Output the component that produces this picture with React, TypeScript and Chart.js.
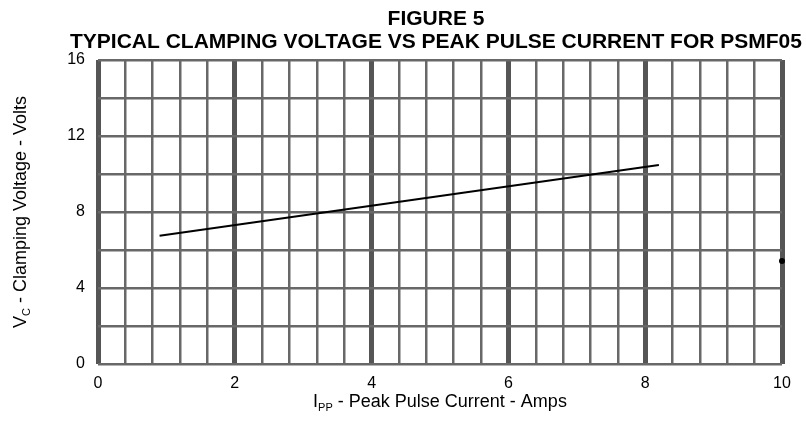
import React, { useEffect, useRef } from 'react';
import { Chart, registerables } from 'chart.js';

Chart.register(...registerables);

// ---- data ----
const titleLines = ['FIGURE 5', 'TYPICAL CLAMPING VOLTAGE VS PEAK PULSE CURRENT FOR PSMF05'];
const xTitleParts = ['I', 'PP', ' - Peak Pulse Current - Amps'];
const yTitleParts = ['V', 'C', ' - Clamping Voltage - Volts'];
const currentAmps = [0.9, 8.2];
const clampVolts = [6.75, 10.47];
const markerAmps = [10];
const markerVolts = [5.42];
const xTickLabels = [0, 2, 4, 6, 8, 10];
const yTickLabels = [0, 4, 8, 12, 16];
const xMin = 0, xMax = 10, xGridStep = 0.4, xMajorStep = 2;
const yMin = 0, yMax = 16, yGridStep = 2;

const FONT = '"Liberation Sans", Arial, Helvetica, sans-serif';

const near = (a: number, b: number) => Math.abs(a - b) < 1e-6;
const isMajorX = (v: number) => near(v / xMajorStep, Math.round(v / xMajorStep));

function drawSubText(ctx: CanvasRenderingContext2D, parts: string[], cx: number, baseline: number, size: number, subSize: number, subDrop: number) {
  ctx.font = `${size}px ${FONT}`;
  const w1 = ctx.measureText(parts[0]).width;
  const w3 = ctx.measureText(parts[2]).width;
  ctx.font = `${subSize}px ${FONT}`;
  const w2 = ctx.measureText(parts[1]).width;
  const total = w1 + w2 + w3;
  let x = cx - total / 2;
  ctx.textAlign = 'left';
  ctx.textBaseline = 'alphabetic';
  ctx.font = `${size}px ${FONT}`;
  ctx.fillText(parts[0], x, baseline);
  x += w1;
  ctx.font = `${subSize}px ${FONT}`;
  ctx.fillText(parts[1], x, baseline + subDrop);
  x += w2;
  ctx.font = `${size}px ${FONT}`;
  ctx.fillText(parts[2], x, baseline);
}

const textPlugin = {
  id: 'figureTexts',
  afterDraw(chart: any) {
    const { ctx, chartArea } = chart;
    const cx = (chartArea.left + chartArea.right) / 2;
    const cy = (chartArea.top + chartArea.bottom) / 2;
    ctx.save();
    ctx.fillStyle = '#000';
    ctx.textAlign = 'center';
    ctx.textBaseline = 'alphabetic';
    ctx.font = `bold 21px ${FONT}`;
    ctx.fillText(titleLines[0], cx - 4, 25);
    ctx.fillText(titleLines[1], cx - 4, 48);
    drawSubText(ctx, xTitleParts, cx, 407, 18, 11, 4);
    ctx.translate(26, cy);
    ctx.rotate(-Math.PI / 2);
    drawSubText(ctx, yTitleParts, 0, 0, 18, 11, 4);
    ctx.restore();
  },
};

export default function App() {
  const ref = useRef<HTMLCanvasElement | null>(null);
  useEffect(() => {
    document.body.style.margin = '0';
    const canvas = ref.current;
    if (!canvas) return;
    const chart = new Chart(canvas, {
      type: 'scatter',
      data: {
        datasets: [
          {
            data: currentAmps.map((x, i) => ({ x, y: clampVolts[i] })),
            showLine: true,
            borderColor: '#000',
            borderWidth: 2,
            pointRadius: 0,
            backgroundColor: '#000',
          },
          {
            data: markerAmps.map((x, i) => ({ x, y: markerVolts[i] })),
            showLine: false,
            pointRadius: 3,
            backgroundColor: '#000',
            borderColor: '#000',
            borderWidth: 0,
            clip: false,
          } as any,
        ],
      },
      options: {
        animation: false,
        responsive: false,
        devicePixelRatio: 1,
        layout: { padding: { left: 0, top: 60, right: 24, bottom: 0 } },
        plugins: { legend: { display: false }, tooltip: { enabled: false }, title: { display: false } },
        scales: {
          x: {
            type: 'linear',
            min: xMin,
            max: xMax,
            z: -1,
            afterFit: (s: any) => { s.height = 57; },
            afterBuildTicks: (s: any) => {
              const n = Math.round((xMax - xMin) / xGridStep);
              s.ticks = Array.from({ length: n + 1 }, (_, i) => ({ value: xMin + (i * (xMax - xMin)) / n }));
            },
            border: { display: false },
            grid: {
              drawTicks: false,
              color: (c: any) => (c.tick && isMajorX(c.tick.value) ? '#555555' : '#686868'),
              lineWidth: (c: any) => (c.tick && isMajorX(c.tick.value) ? 5 : 2.5),
            },
            ticks: {
              autoSkip: false,
              maxRotation: 0,
              padding: 10,
              color: '#000',
              font: { family: FONT, size: 16 },
              callback: (v: any) => {
                const m = xTickLabels.find((t) => near(t, Number(v)));
                return m === undefined ? '' : String(m);
              },
            },
          },
          y: {
            type: 'linear',
            min: yMin,
            max: yMax,
            z: -2,
            afterFit: (s: any) => { s.width = 98; },
            afterBuildTicks: (s: any) => {
              const n = Math.round((yMax - yMin) / yGridStep);
              s.ticks = Array.from({ length: n + 1 }, (_, i) => ({ value: yMin + i * yGridStep }));
            },
            border: { display: false },
            grid: {
              drawTicks: false,
              color: '#686868',
              lineWidth: 2.5,
            },
            ticks: {
              autoSkip: false,
              padding: 13,
              color: '#000',
              font: { family: FONT, size: 16 },
              callback: (v: any) => {
                const m = yTickLabels.find((t) => near(t, Number(v)));
                return m === undefined ? '' : String(m);
              },
            },
          },
        },
      },
      plugins: [textPlugin],
    } as any);
    return () => chart.destroy();
  }, []);
  return (
    <div style={{ width: 806, height: 421, position: 'relative', background: '#fff' }}>
      <canvas ref={ref} width={806} height={421} style={{ display: 'block', width: 806, height: 421 }} />
    </div>
  );
}
